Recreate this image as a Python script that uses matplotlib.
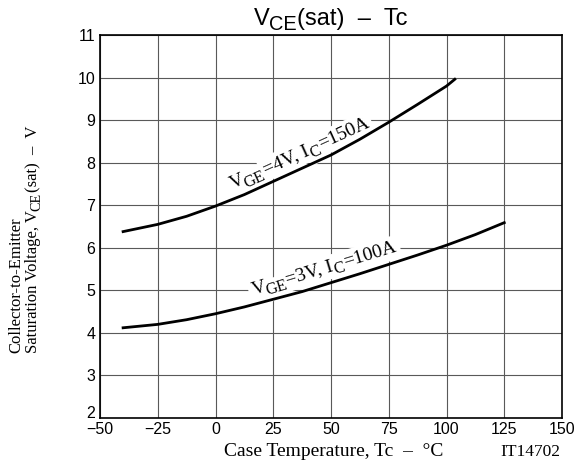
import math
import matplotlib
matplotlib.use("Agg")
import matplotlib.pyplot as plt
from matplotlib.transforms import IdentityTransform

# Case temperature (deg C) and VCE(sat) (V)
tc_150a = [-40, -25, -12.5, 0, 12.5, 25, 37.5, 50, 62.5, 75, 87.5, 100, 103.6]
vce_150a = [6.38, 6.55, 6.74, 6.98, 7.25, 7.56, 7.87, 8.18, 8.55, 8.95, 9.37, 9.80, 9.96]

tc_100a = [-40, -25, -12.5, 0, 12.5, 25, 37.5, 50, 62.5, 75, 87.5, 100, 112.5, 125]
vce_100a = [4.12, 4.2, 4.31, 4.45, 4.61, 4.79, 4.97, 5.18, 5.39, 5.61, 5.83, 6.06, 6.31, 6.59]

x_ticks = [-50, -25, 0, 25, 50, 75, 100, 125, 150]
x_labels = ["\u221250", "\u221225", "0", "25", "50", "75", "100", "125", "150"]
y_ticks = [2, 3, 4, 5, 6, 7, 8, 9, 10, 11]

W, H = 575, 469
SERIF = "Liberation Serif"
SANS = "Liberation Sans"

plt.rcParams["font.family"] = [SANS, "DejaVu Sans"]

fig = plt.figure(figsize=(W / 100, H / 100), dpi=100)
ax = fig.add_axes([100 / W, 1 - 418 / H, 462 / W, 383 / H])
renderer = fig.canvas.get_renderer()


def draw_runs(target, x, y, parts, size, family, angle=0, ha="left",
              sub_scale=0.85, sub_drop=0.22, background=False):
    """Write text made of normal and subscript pieces along a (rotated) baseline.
    x, y are display pixels; parts is a list of (text, is_subscript[, kern_px])."""
    widths = []
    for p in parts:
        s, sub = p[0], p[1]
        kern = p[2] if len(p) > 2 else 0
        t = fig.text(0, 0, s, fontsize=size * sub_scale if sub else size, family=family)
        widths.append(t.get_window_extent(renderer).width + 0.5 + kern)
        t.remove()
    total = sum(widths)
    a = math.radians(angle)
    ux, uy = math.cos(a), math.sin(a)
    shift = {"left": 0, "center": total / 2, "right": total}[ha]
    x0, y0 = x - shift * ux, y - shift * uy
    drop = sub_drop * size * 100 / 72
    pos = 0
    for p, w in zip(parts, widths):
        s, sub = p[0], p[1]
        px, py = x0 + pos * ux, y0 + pos * uy
        if sub:
            px, py = px + drop * uy, py - drop * ux
        kw = dict(fontsize=size * sub_scale if sub else size, family=family,
                  rotation=angle, rotation_mode="anchor", ha="left", va="baseline",
                  transform=IdentityTransform())
        if background:
            target.text(px, py, s, color="none", zorder=3,
                        bbox=dict(facecolor="white", edgecolor="none", pad=2.5), **kw)
        target.text(px, py, s, color="black", zorder=5, **kw)
        pos += w


ax.plot(tc_150a, vce_150a, color="black", lw=2.0, zorder=4)
ax.plot(tc_100a, vce_100a, color="black", lw=2.0, zorder=4)

ax.set_xlim(-50, 150)
ax.set_ylim(2, 11)
ax.set_xticks(x_ticks)
ax.set_xticklabels(x_labels)
ax.set_yticks(y_ticks)
ax.tick_params(length=0, labelsize=11.5)
ax.tick_params(axis="x", pad=3)
ax.tick_params(axis="y", pad=3.5)
ax.get_yticklabels()[0].set_va("baseline")
ax.grid(True, color="0.35", lw=0.8)
ax.set_axisbelow(True)
for s in ax.spines.values():
    s.set_linewidth(1.2)
    s.set_color("black")

# curve labels (baseline start in data coords)
x1, y1 = ax.transData.transform((7.6, 7.38))
draw_runs(ax, x1, y1, [("V", False, -1.5), ("GE", True), ("=4V, I", False), ("C", True), ("=150A", False)],
          14, SERIF, angle=24.5, background=True)
x2, y2 = ax.transData.transform((16.4, 4.89))
draw_runs(ax, x2, y2, [("V", False, -1.5), ("GE", True), ("=3V, I", False), ("C", True), ("=100A", False)],
          14, SERIF, angle=16.9, background=True)

# title
draw_runs(fig, 331, H - 25, [("V", False, -0.5), ("CE", True), ("(sat)  \u2013  Tc", False)],
          17, SANS, ha="center", sub_drop=0.2)

# axis labels
draw_runs(fig, 334, H - 456, [("Case Temperature, Tc  \u2013  \u00b0C", False)],
          14, SERIF, ha="center")
draw_runs(fig, 20, H - 353, [("Collector-to-Emitter", False)], 12, SERIF, angle=90)
draw_runs(fig, 37, H - 353, [("Saturation Voltage, V", False, -1), ("CE", True), ("(sat)  \u2013  V", False)],
          12, SERIF, angle=90)

draw_runs(fig, 561, H - 456, [("IT14702", False)], 12.5, SERIF, ha="right")

fig.savefig("out.png", dpi=100)
